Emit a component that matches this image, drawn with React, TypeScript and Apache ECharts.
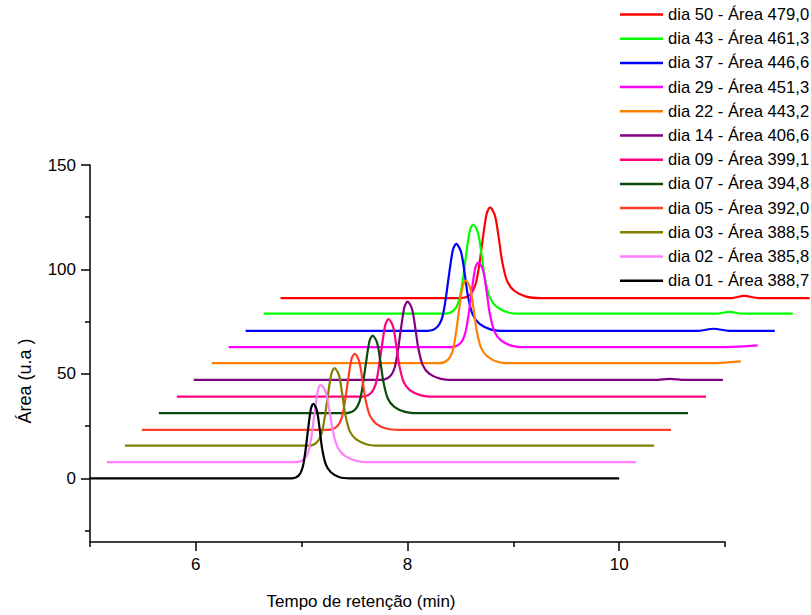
import React, { useEffect, useRef } from "react";
import * as echarts from "echarts";

// Series order: back (dia 50) to front (dia 01) — same as legend order
const days = ["50", "43", "37", "29", "22", "14", "09", "07", "05", "03", "02", "01"];
const areas = ["479,0", "461,3", "446,6", "451,3", "443,2", "406,6", "399,1", "394,8", "392,0", "388,5", "385,8", "388,7"];
const colors = ["#FF0000", "#00FF00", "#0000FF", "#FF00FF", "#FF8000", "#800080", "#FF0080", "#0A4A0A", "#FF3C28", "#808000", "#FF80FF", "#000000"];

// waterfall offsets (x in min, y in u.a) for each curve
const xOffsets = [1.8, 1.64, 1.47, 1.31, 1.15, 0.98, 0.82, 0.65, 0.49, 0.33, 0.16, 0];
const yOffsets = [86.3, 78.8, 70.6, 62.8, 55.1, 47.1, 39.1, 31.2, 23.2, 15.6, 7.7, 0];

// chromatograms [retention time (min), signal]
const dia50 = [[5, 0], [6.705, 0], [6.792, 1.7], [6.842, 6.5], [6.876, 15.2], [6.912, 28.6], [6.948, 40.4], [6.98, 43.4], [7.026, 39.5], [7.063, 28.6], [7.095, 17.4], [7.141, 8.2], [7.209, 3.5], [7.322, 0.7], [7.459, 0], [9.26, 0], [9.38, 1.0], [9.52, 0], [10, 0]];
const dia43 = [[5, 0], [6.714, 0], [6.798, 1.7], [6.847, 6.4], [6.879, 14.9], [6.914, 28.2], [6.949, 39.7], [6.98, 42.7], [7.025, 38.9], [7.06, 28.2], [7.091, 17.1], [7.135, 8.1], [7.201, 3.4], [7.31, 0.6], [7.442, 0], [9.28, 0], [9.4, 0.9], [9.53, 0], [10, 0]];
const dia37 = [[5, 0], [6.724, 0], [6.808, 1.7], [6.857, 6.2], [6.889, 14.6], [6.924, 27.5], [6.959, 38.7], [6.99, 41.6], [7.035, 37.9], [7.07, 27.5], [7.101, 16.6], [7.145, 7.9], [7.211, 3.3], [7.32, 0.6], [7.452, 0], [9.28, 0], [9.42, 1.0], [9.57, 0], [10, 0]];
const dia29 = [[5, 0], [7.104, 0], [7.185, 1.6], [7.232, 6.1], [7.263, 14.2], [7.297, 26.8], [7.33, 37.8], [7.36, 40.6], [7.403, 36.9], [7.437, 26.8], [7.467, 16.2], [7.51, 7.7], [7.573, 3.2], [7.679, 0.6], [7.806, 0], [9.7, 0], [10, 0.8]];
const dia22 = [[5, 0], [7.153, 0], [7.231, 1.6], [7.277, 5.9], [7.306, 13.9], [7.339, 26.1], [7.371, 36.8], [7.4, 39.6], [7.442, 36.0], [7.474, 26.1], [7.503, 15.8], [7.544, 7.5], [7.605, 3.2], [7.707, 0.6], [7.829, 0], [9.7, 0], [10, 0.9]];
const dia14 = [[5, 0], [6.773, 0], [6.851, 1.5], [6.897, 5.6], [6.926, 13.1], [6.959, 24.8], [6.991, 34.9], [7.02, 37.5], [7.062, 34.1], [7.094, 24.8], [7.123, 15.0], [7.164, 7.1], [7.225, 3.0], [7.327, 0.6], [7.449, 0], [9.36, 0], [9.5, 0.5], [9.64, 0], [10, 0]];
const dia09 = [[5, 0], [6.753, 0], [6.831, 1.5], [6.877, 5.6], [6.906, 13.0], [6.939, 24.5], [6.971, 34.5], [7.0, 37.1], [7.042, 33.8], [7.074, 24.5], [7.103, 14.8], [7.144, 7.0], [7.205, 3.0], [7.307, 0.6], [7.429, 0], [10, 0]];
const dia07 = [[5, 0], [6.773, 0], [6.851, 1.5], [6.897, 5.6], [6.926, 13.0], [6.959, 24.5], [6.991, 34.5], [7.02, 37.1], [7.062, 33.8], [7.094, 24.5], [7.123, 14.8], [7.164, 7.0], [7.225, 3.0], [7.327, 0.6], [7.449, 0], [10, 0]];
const dia05 = [[5, 0], [6.763, 0], [6.841, 1.5], [6.887, 5.5], [6.916, 12.7], [6.949, 24.0], [6.981, 33.9], [7.01, 36.4], [7.052, 33.1], [7.084, 24.0], [7.113, 14.6], [7.154, 6.9], [7.215, 2.9], [7.317, 0.5], [7.439, 0], [10, 0]];
const dia03 = [[5, 0], [6.733, 0], [6.811, 1.5], [6.857, 5.6], [6.886, 13.0], [6.919, 24.5], [6.951, 34.5], [6.98, 37.1], [7.022, 33.8], [7.054, 24.5], [7.083, 14.8], [7.124, 7.0], [7.185, 3.0], [7.287, 0.6], [7.409, 0], [10, 0]];
const dia02 = [[5, 0], [6.792, 0], [6.864, 1.5], [6.906, 5.6], [6.934, 13.0], [6.964, 24.5], [6.994, 34.5], [7.02, 37.1], [7.066, 33.8], [7.103, 24.5], [7.135, 14.8], [7.181, 7.0], [7.249, 3.0], [7.362, 0.6], [7.499, 0], [10, 0]];
const dia01 = [[5, 0], [6.911, 0], [6.974, 1.4], [7.01, 5.4], [7.034, 12.5], [7.061, 23.6], [7.087, 33.2], [7.11, 35.7], [7.144, 32.5], [7.17, 23.6], [7.193, 14.3], [7.227, 6.8], [7.276, 2.9], [7.358, 0.5], [7.457, 0], [10, 0]];

const curves = [dia50, dia43, dia37, dia29, dia22, dia14, dia09, dia07, dia05, dia03, dia02, dia01];

const xMajorTicks = [6, 8, 10];
const xMinorTicks = [5, 7, 9, 11];
const yMajorTicks = [0, 50, 100, 150];
const yMinorTicks = [-25, 25, 75, 125];

const FONT = "'Liberation Sans', Arial, sans-serif";

export default function App() {
  const ref = useRef<HTMLDivElement>(null);

  useEffect(() => {
    if (!ref.current) return;
    const chart = echarts.init(ref.current, null, { renderer: "svg" });
    const names = days.map((d, i) => `dia ${d} - Área ${areas[i]}`);

    const series = curves.map((pts, i) => ({
      name: names[i],
      type: "line",
      xAxisIndex: 2,
      yAxisIndex: 2,
      data: pts.map(([t, v]) => [t + xOffsets[i], v + yOffsets[i]]),
      showSymbol: false,
      symbol: "none",
      smooth: 0.3,
      color: colors[i],
      lineStyle: { color: colors[i], width: 2.2 },
      areaStyle: { color: "#ffffff", opacity: 1, origin: "start" },
      z: 2,
    }));

    const axisLineStyle = { color: "#000", width: 1.5 };
    const unit = 635 / 6;

    chart.setOption({
      animation: false,
      backgroundColor: "#ffffff",
      grid: [
        { left: 90, top: 165, width: 635, height: 377, outerBoundsMode: "none" },
        { left: 90, top: 165, width: unit * 7, height: 377, outerBoundsMode: "none" },
      ],
      legend: {
        orient: "vertical",
        left: 620,
        top: 6,
        padding: 0,
        icon: "rect",
        itemWidth: 43,
        itemHeight: 2.5,
        itemGap: 7.2,
        data: names,
        textStyle: { fontSize: 16.6, fontFamily: FONT, color: "#000" },
      },
      xAxis: [
        {
          type: "value",
          gridIndex: 0,
          min: 5,
          max: 11,
          position: "bottom",
          z: 10,
          axisLine: { show: true, onZero: false, lineStyle: axisLineStyle },
          axisTick: { show: true, customValues: xMajorTicks, length: 9, lineStyle: axisLineStyle },
          axisLabel: { customValues: xMajorTicks, margin: 14, fontSize: 17, fontFamily: FONT, color: "#000" },
          splitLine: { show: false },
        },
        {
          type: "value",
          gridIndex: 0,
          min: 5,
          max: 11,
          position: "bottom",
          z: 10,
          axisLine: { show: false, onZero: false },
          axisTick: { show: true, customValues: xMinorTicks, length: 5, lineStyle: axisLineStyle },
          axisLabel: { show: false },
          splitLine: { show: false },
        },
        {
          type: "value",
          gridIndex: 1,
          min: 5,
          max: 12,
          show: false,
          axisLine: { onZero: false },
        },
      ],
      yAxis: [
        {
          type: "value",
          gridIndex: 0,
          min: -30.5,
          max: 150,
          position: "left",
          z: 10,
          axisLine: { show: true, onZero: false, lineStyle: axisLineStyle },
          axisTick: { show: true, customValues: yMajorTicks, length: 9, lineStyle: axisLineStyle },
          axisLabel: { customValues: yMajorTicks, margin: 14, fontSize: 17, fontFamily: FONT, color: "#000" },
          splitLine: { show: false },
        },
        {
          type: "value",
          gridIndex: 0,
          min: -30.5,
          max: 150,
          position: "left",
          z: 10,
          axisLine: { show: false, onZero: false },
          axisTick: { show: true, customValues: yMinorTicks, length: 5, lineStyle: axisLineStyle },
          axisLabel: { show: false },
          splitLine: { show: false },
        },
        {
          type: "value",
          gridIndex: 1,
          min: -30.5,
          max: 150,
          show: false,
          axisLine: { onZero: false },
        },
      ],
      graphic: [
        {
          type: "text",
          x: 25,
          y: 381,
          rotation: Math.PI / 2,
          style: { text: "Área (u.a )", fontSize: 18, fontFamily: FONT, fill: "#000", align: "center", verticalAlign: "middle" },
        },
        {
          type: "text",
          x: 361,
          y: 601,
          style: { text: "Tempo de retenção (min)", fontSize: 17, fontFamily: FONT, fill: "#000", align: "center", verticalAlign: "middle" },
        },
      ],
      series,
    });

    return () => chart.dispose();
  }, []);

  return <div ref={ref} style={{ position: "fixed", left: 0, top: 0, width: 811, height: 615 }} />;
}
